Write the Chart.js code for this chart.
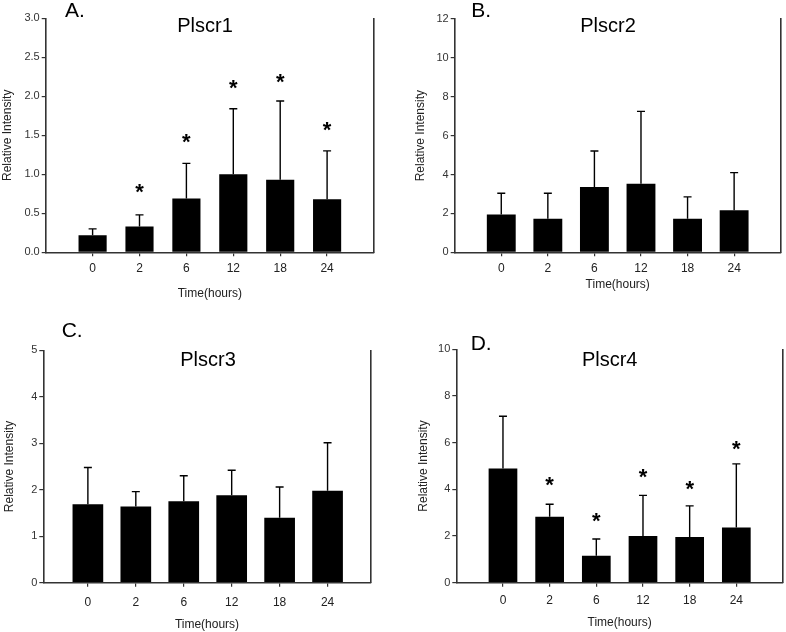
<!DOCTYPE html>
<html><head><meta charset="utf-8">
<script src="https://cdn.jsdelivr.net/npm/chart.js@4.4.0/dist/chart.umd.min.js"></script>
<style>
html,body{margin:0;padding:0;background:#fff}
body{width:786px;height:632px;position:relative;overflow:hidden}
.p{position:absolute;width:393px;height:316px}
canvas{display:block}
</style></head><body>
<div class="p" style="left:0;top:0"><canvas id="cA" width="393" height="316"></canvas></div>
<div class="p" style="left:393px;top:0"><canvas id="cB" width="393" height="316"></canvas></div>
<div class="p" style="left:0;top:316px"><canvas id="cC" width="393" height="316"></canvas></div>
<div class="p" style="left:393px;top:316px"><canvas id="cD" width="393" height="316"></canvas></div>
<script>
// ---- data ----
const times = ['0', '2', '6', '12', '18', '24'];

const plscr1Mean = [0.22, 0.33, 0.69, 1.00, 0.93, 0.68];
const plscr1SD   = [0.08, 0.15, 0.45, 0.84, 1.01, 0.62];
const plscr1Star = [null, 0.83, 1.47, 2.16, 2.24, 1.62];

const plscr2Mean = [1.95, 1.72, 3.36, 3.52, 1.72, 2.16];
const plscr2SD   = [1.09, 1.32, 1.85, 3.73, 1.13, 1.94];
const plscr2Star = [null, null, null, null, null, null];

const plscr3Mean = [1.69, 1.64, 1.75, 1.88, 1.40, 1.98];
const plscr3SD   = [0.79, 0.32, 0.55, 0.54, 0.66, 1.03];
const plscr3Star = [null, null, null, null, null, null];

const plscr4Mean = [4.89, 2.83, 1.16, 2.00, 1.96, 2.37];
const plscr4SD   = [2.24, 0.53, 0.71, 1.74, 1.33, 2.72];
const plscr4Star = [null, 4.37, 2.83, 4.73, 4.19, 5.94];

const yTicksA = [0, 0.5, 1.0, 1.5, 2.0, 2.5, 3.0];
const yTicksB = [0, 2, 4, 6, 8, 10, 12];
const yTicksC = [0, 1, 2, 3, 4, 5];
const yTicksD = [0, 2, 4, 6, 8, 10];

const FONT = "'Liberation Sans', Arial, Helvetica, sans-serif";
const AX = '#333';

const annot = {
  id: 'annot',
  afterDatasetsDraw(chart, args, o) {
    const {ctx, scales: {x, y}} = chart;
    ctx.save();
    // error bars
    ctx.strokeStyle = '#000';
    ctx.lineWidth = 1.4;
    o.mean.forEach((m, i) => {
      const px = x.getPixelForValue(i + 1);
      const pb = y.getPixelForValue(m);
      const pt = y.getPixelForValue(m + o.sd[i]);
      ctx.beginPath();
      ctx.moveTo(px, pb); ctx.lineTo(px, pt);
      ctx.moveTo(px - 4, pt); ctx.lineTo(px + 4, pt);
      ctx.stroke();
    });
    // significance stars
    ctx.fillStyle = '#000';
    ctx.font = 'bold 22px ' + FONT;
    ctx.textAlign = 'center';
    ctx.textBaseline = 'alphabetic';
    o.star.forEach((s, i) => {
      if (s == null) return;
      ctx.fillText('*', x.getPixelForValue(i + 1), y.getPixelForValue(s) + 11.5);
    });
    // panel letter and title
    ctx.font = '21px ' + FONT;
    ctx.textAlign = 'left';
    ctx.fillText(o.letter, o.letterX, o.letterY);
    ctx.font = '20px ' + FONT;
    ctx.textAlign = 'center';
    ctx.fillText(o.title, o.titleX, o.titleY);
    ctx.restore();
  }
};

function makePanel(id, cfg) {
  const data = cfg.mean.map((v, i) => ({x: i + 1, y: v}));
  new Chart(document.getElementById(id), {
    type: 'bar',
    data: {datasets: [{data, backgroundColor: '#000', borderWidth: 0,
      barPercentage: cfg.barPct, categoryPercentage: 1}]},
    plugins: [annot],
    options: {
      responsive: false, animation: false,
      layout: {padding: {left: cfg.padL, right: cfg.padR, top: cfg.padT, bottom: cfg.padB}},
      plugins: {
        legend: {display: false}, tooltip: {enabled: false},
        annot: {mean: cfg.mean, sd: cfg.sd, star: cfg.star, letter: cfg.letter, title: cfg.title,
          letterX: cfg.letterX, letterY: cfg.letterY, titleX: cfg.titleX, titleY: cfg.titleY}
      },
      scales: {
        x: {
          type: 'linear', min: cfg.xMin, max: cfg.xMax, offset: false,
          afterBuildTicks: s => { s.ticks = times.map((t, i) => ({value: i + 1})); },
          afterFit: s => { s.height = cfg.xH; },
          ticks: {callback: v => times[v - 1], font: {family: FONT, size: 12}, color: '#222',
            padding: cfg.xTickPad, maxRotation: 0, autoSkip: false},
          grid: {display: true, offset: false, drawOnChartArea: false, drawTicks: true, tickLength: 4, color: AX, lineWidth: 1.2},
          border: {display: true, color: AX, width: 1.6},
          title: {display: true, text: 'Time(hours)', font: {family: FONT, size: 12}, color: '#222', padding: 0}
        },
        y: {
          min: 0, max: cfg.yTicks[cfg.yTicks.length - 1],
          afterBuildTicks: s => { s.ticks = cfg.yTicks.map(v => ({value: v})); },
          afterFit: s => { s.width = cfg.yW; },
          ticks: {callback: v => cfg.yFmt(v), font: {family: FONT, size: 11}, color: '#333', padding: 2},
          grid: {display: true, drawOnChartArea: false, drawTicks: true, tickLength: 4, color: AX, lineWidth: 1.2},
          border: {display: true, color: AX, width: 1.6},
          title: {display: true, text: 'Relative Intensity', font: {family: FONT, size: 12}, color: '#222', padding: 0}
        },
        y2: {
          position: 'right', min: 0, max: 1,
          afterFit: s => { s.width = 0; },
          ticks: {display: false},
          grid: {display: false},
          border: {display: true, color: AX, width: 1.6}
        }
      }
    }
  });
}

makePanel('cA', {mean: plscr1Mean, sd: plscr1SD, star: plscr1Star, yTicks: yTicksA, yFmt: v => v.toFixed(1),
  letter: 'A.', title: 'Plscr1', letterX: 65, letterY: 17, titleX: 205, titleY: 32,
  padL: 0, padR: 19, padT: 18.3, padB: 15.5, yW: 45.7, xH: 48.2, xTickPad: 4.8, xMin: 0, xMax: 7, barPct: 0.6});
makePanel('cB', {mean: plscr2Mean, sd: plscr2SD, star: plscr2Star, yTicks: yTicksB, yFmt: v => String(v),
  letter: 'B.', title: 'Plscr2', letterX: 78.3, letterY: 17, titleX: 215, titleY: 32,
  padL: 20.3, padR: 5.3, padT: 19, padB: 24.5, yW: 41.4, xH: 39.2, xTickPad: 4.8, xMin: 0, xMax: 7, barPct: 0.62});
makePanel('cC', {mean: plscr3Mean, sd: plscr3SD, star: plscr3Star, yTicks: yTicksC, yFmt: v => String(v),
  letter: 'C.', title: 'Plscr3', letterX: 61.7, letterY: 20.5, titleX: 208, titleY: 50,
  padL: 2.3, padR: 22.3, padT: 34.3, padB: 0, yW: 41, xH: 49.3, xTickPad: 8.8, xMin: 0.07, xMax: 6.9, barPct: 0.64});
makePanel('cD', {mean: plscr4Mean, sd: plscr4SD, star: plscr4Star, yTicks: yTicksD, yFmt: v => String(v),
  letter: 'D.', title: 'Plscr4', letterX: 77.7, letterY: 34, titleX: 216.7, titleY: 50,
  padL: 23.5, padR: 3, padT: 33.3, padB: 2.1, yW: 39.8, xH: 47.2, xTickPad: 7.1, xMin: 0, xMax: 7, barPct: 0.615});
</script>
</body></html>
